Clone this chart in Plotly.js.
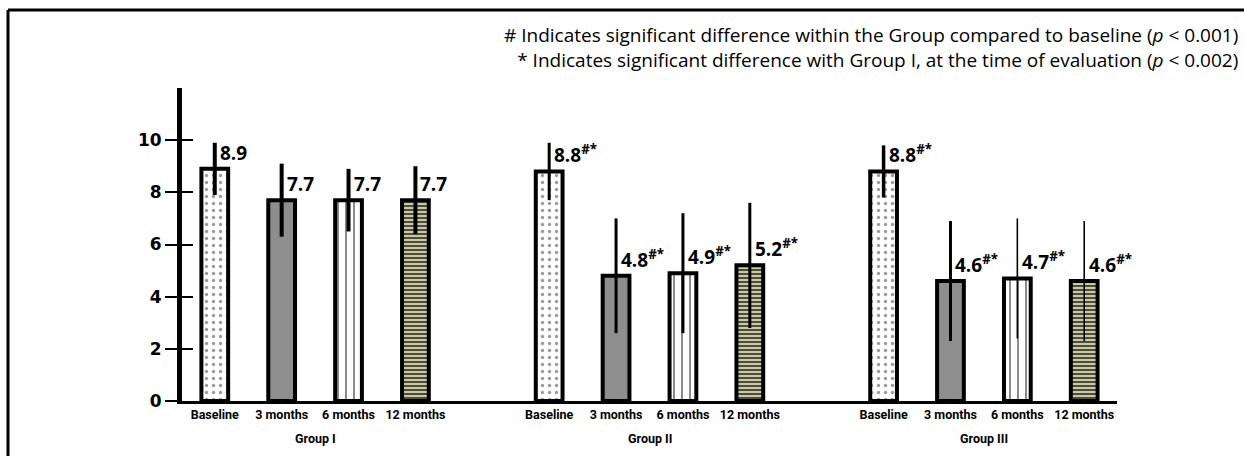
<!DOCTYPE html>
<html>
<head>
<meta charset="utf-8">
<script src="https://cdn.plot.ly/plotly-3.0.1.min.js"></script>
<style>
  html, body { margin: 0; padding: 0; background: #ffffff; }
  #chart { width: 1244px; height: 456px; }
</style>
</head>
<body>
<div id="chart"></div>
<script>
// ---- data ----
const groups = ['Group I', 'Group II', 'Group III'];
const timepoints = ['Baseline', '3 months', '6 months', '12 months'];
const groupI = [8.9, 7.7, 7.7, 7.7];
const groupII = [8.8, 4.8, 4.9, 5.2];
const groupIII = [8.8, 4.6, 4.7, 4.6];
const sdI = [1.0, 1.4, 1.2, 1.3];
const sdII = [1.1, 2.2, 2.3, 2.4];
const sdIII = [1.0, 2.3, 2.3, 2.3];
const sigI = ['', '', '', ''];
const sigII = ['#*', '#*', '#*', '#*'];
const sigIII = ['#*', '#*', '#*', '#*'];
const footnote1 = '# Indicates significant difference within the Group compared to baseline (<i>p</i> < 0.001)';
const footnote2 = '* Indicates significant difference with Group I, at the time of evaluation (<i>p</i> < 0.002)';

// ---- styles ----
const means = [groupI, groupII, groupIII];
const sds = [sdI, sdII, sdIII];
const sigs = [sigI, sigII, sigIII];
const fillStyles = [
  { color: '#ffffff', pattern: { shape: '.', fgcolor: '#9a9a9a', bgcolor: '#ffffff', size: 7, solidity: 0.18 } },
  { color: '#8e8e8e' },
  { color: '#ffffff', pattern: { shape: '|', fgcolor: '#2f2f2f', bgcolor: '#ffffff', size: 8, solidity: 0.14 } },
  { color: '#d6d6bf', pattern: { shape: '-', fgcolor: '#4f4f30', bgcolor: '#d6d6bf', size: 4, solidity: 0.55 } }
];
const errThickness = [[4, 4, 4, 4], [3, 3, 3, 3], [3.5, 3, 1.6, 1.6]];
const groupGap = 5;
const smallFont = 'Roboto, Lato, sans-serif';

const traces = [];
const annotations = [];
const tickvals = [];
const ticktext = [];

groups.forEach((g, gi) => {
  timepoints.forEach((t, ti) => {
    const xpos = gi * groupGap + ti;
    tickvals.push(xpos);
    ticktext.push(t);
    const fs = fillStyles[ti];
    const marker = { color: fs.color, line: { color: '#000000', width: 4 } };
    if (fs.pattern) marker.pattern = fs.pattern;
    traces.push({
      type: 'bar',
      x: [xpos],
      y: [means[gi][ti]],
      width: 0.40,
      marker: marker,
      error_y: { type: 'data', array: [sds[gi][ti]], visible: true, color: '#000000', thickness: errThickness[gi][ti], width: 0 },
      showlegend: false,
      hoverinfo: 'skip'
    });
    const sig = sigs[gi][ti];
    annotations.push({
      xref: 'x', yref: 'y', x: xpos, y: means[gi][ti],
      text: means[gi][ti].toFixed(1) + (sig ? '<sup>' + sig + '</sup>' : ''),
      showarrow: false, xanchor: 'left', yanchor: 'bottom', xshift: 3, yshift: 1,
      font: { family: 'Open Sans, DejaVu Sans, sans-serif', size: 19, color: '#000000', weight: 'bold' }
    });
  });
  annotations.push({
    xref: 'x', yref: 'paper', x: gi * groupGap + 1.5, y: 0, yshift: -37,
    text: g, showarrow: false, xanchor: 'center', yanchor: 'middle',
    font: { family: smallFont, size: 12.5, color: '#000000', weight: 'bold' }
  });
});

annotations.push({
  xref: 'paper', yref: 'paper', x: 1.132, y: 1.128, xanchor: 'right', yanchor: 'middle', align: 'right',
  text: footnote1 + '<br>' + footnote2, showarrow: false,
  font: { family: 'Open Sans, sans-serif', size: 19, color: '#000000' }
});

// empty helper trace so the inner-tick axis is drawn
traces.push({ type: 'scatter', x: [], y: [], yaxis: 'y2', showlegend: false, hoverinfo: 'skip' });

const layout = {
  width: 1244, height: 456,
  margin: { l: 182, r: 127, t: 88, b: 55 },
  paper_bgcolor: '#ffffff', plot_bgcolor: '#ffffff',
  barmode: 'overlay',
  showlegend: false,
  xaxis: {
    range: [-0.49, 13.49],
    tickvals: tickvals, ticktext: ticktext, tickangle: 0,
    ticks: '', showgrid: false, zeroline: false,
    showline: true, linecolor: '#000000', linewidth: 3,
    tickfont: { family: smallFont, size: 12.5, color: '#000000', weight: 'bold' }
  },
  yaxis: {
    range: [0, 12],
    tickvals: [0, 2, 4, 6, 8, 10],
    ticks: 'outside', ticklen: 12, tickwidth: 2, tickcolor: '#000000',
    showgrid: false, zeroline: false,
    showline: true, linecolor: '#000000', linewidth: 5,
    tickfont: { family: 'DejaVu Sans, sans-serif', size: 17, color: '#000000', weight: 'bold' }
  },
  yaxis2: {
    overlaying: 'y', side: 'left', range: [0, 12],
    tickvals: [2, 4, 6, 8, 10],
    ticks: 'inside', ticklen: 11, tickwidth: 2, tickcolor: '#000000',
    showticklabels: false, showgrid: false, zeroline: false, showline: false
  },
  annotations: annotations,
  shapes: [
    { type: 'line', xref: 'paper', yref: 'paper', x0: -0.1861, x1: 1.14, y0: 1.249, y1: 1.249, line: { color: '#000000', width: 3 } },
    { type: 'line', xref: 'paper', yref: 'paper', x0: -0.1861, x1: -0.1861, y0: 1.249, y1: -0.18, line: { color: '#000000', width: 3 } }
  ]
};

Plotly.newPlot('chart', traces, layout, { displayModeBar: false, staticPlot: true });
</script>
</body>
</html>
